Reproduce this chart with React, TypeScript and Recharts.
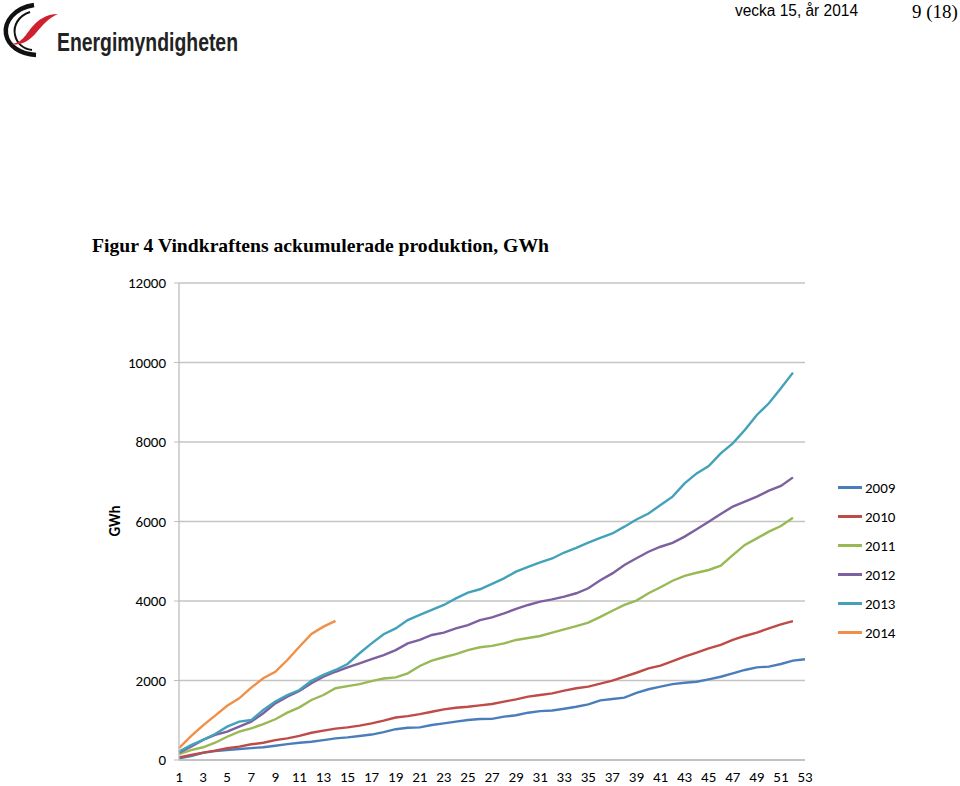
import { LineChart, Line, XAxis, YAxis, CartesianGrid } from 'recharts';

// weeks 1..53
const weeks = Array.from({ length: 53 }, (_, i) => i + 1);
const xTicks = [1, 3, 5, 7, 9, 11, 13, 15, 17, 19, 21, 23, 25, 27, 29, 31, 33, 35, 37, 39, 41, 43, 45, 47, 49, 51, 53];
const yTicks = [0, 2000, 4000, 6000, 8000, 10000, 12000];

// accumulated production, GWh, per week
const y2009 = [40, 100, 180, 225, 250, 275, 300, 320, 360, 400, 435, 460, 500, 545, 570, 605, 640, 700, 775, 810,
    820, 880, 920, 965, 1005, 1030, 1035, 1090, 1125, 1190, 1230, 1245, 1290, 1340, 1400, 1500, 1535, 1570, 1690, 1780,
    1845, 1910, 1945, 1970, 2030, 2095, 2180, 2265, 2330, 2350, 2415, 2500, 2535];
const y2010 = [65, 125, 185, 235, 295, 335, 395, 435, 500, 545, 605, 685, 740, 790, 820, 865, 920, 990, 1070, 1105,
    1155, 1215, 1275, 1315, 1340, 1375, 1410, 1470, 1525, 1595, 1635, 1675, 1745, 1805, 1845, 1920, 1995, 2095, 2195, 2305,
    2375, 2490, 2600, 2700, 2810, 2895, 3020, 3120, 3205, 3310, 3410, 3495];
const y2011 = [145, 250, 320, 435, 585, 715, 795, 905, 1025, 1190, 1325, 1510, 1635, 1805, 1860, 1910, 1985, 2050, 2080, 2180,
    2365, 2500, 2585, 2665, 2765, 2835, 2870, 2935, 3020, 3070, 3120, 3205, 3285, 3370, 3455, 3600, 3755, 3900, 4010, 4195,
    4345, 4510, 4630, 4710, 4780, 4890, 5155, 5410, 5575, 5745, 5885, 6095];
const y2012 = [185, 335, 505, 630, 715, 840, 965, 1175, 1425, 1595, 1735, 1930, 2095, 2220, 2330, 2430, 2540, 2640, 2765, 2935,
    3020, 3145, 3205, 3310, 3395, 3520, 3590, 3690, 3800, 3900, 3985, 4040, 4110, 4195, 4320, 4520, 4695, 4905, 5075, 5240,
    5365, 5465, 5620, 5805, 5995, 6190, 6375, 6500, 6625, 6775, 6895, 7110];
const y2013 = [210, 375, 505, 655, 840, 965, 1005, 1260, 1470, 1635, 1760, 1995, 2140, 2265, 2415, 2685, 2935, 3165, 3310, 3520,
    3650, 3775, 3900, 4065, 4210, 4295, 4430, 4570, 4740, 4860, 4970, 5070, 5220, 5335, 5470, 5590, 5700, 5870, 6050, 6200,
    6415, 6625, 6960, 7210, 7395, 7715, 7965, 8300, 8680, 8975, 9350, 9745];
const y2014 = [300, 600, 870, 1115, 1365, 1550, 1820, 2055, 2220, 2515, 2850, 3170, 3355, 3500];

const series = [
    { key: '2009', color: '#4A7EBB', values: y2009 },
    { key: '2010', color: '#BE4B48', values: y2010 },
    { key: '2011', color: '#98B954', values: y2011 },
    { key: '2012', color: '#7D60A0', values: y2012 },
    { key: '2013', color: '#43A2B9', values: y2013 },
    { key: '2014', color: '#F08F45', values: y2014 },
];

const data = weeks.map((w, i) => {
    const row: Record<string, number | undefined> = { week: w };
    series.forEach((s) => {
        row[s.key] = s.values[i];
    });
    return row;
});

const axisFont = 'Carlito, Lato, sans-serif';

function Header() {
    return (
        <svg width={960} height={270} style={{ position: 'absolute', left: 0, top: 0 }}>
            {/* logo */}
            <path d="M 34 5 C 14 8, 4 22, 6 34 C 8 46, 20 54, 36 55" stroke="#111" strokeWidth={4.5} fill="none" />
            <path d="M 30 12 C 18 16, 13 26, 15 35 C 17 44, 24 49, 32 50" stroke="#111" strokeWidth={2} fill="none" />
            <path d="M 10 44 C 22 44, 26 34, 32 27 C 38 20, 46 14, 58 14 C 48 18, 42 26, 36 33 C 30 40, 22 46, 10 44 Z" fill="#d0202e" />
            <text x={57} y={51} fontSize={26} fontWeight="bold" fill="#222"
                fontFamily="'Liberation Sans Narrow', 'Liberation Sans', sans-serif"
                textLength={181} lengthAdjust="spacingAndGlyphs">Energimyndigheten</text>
            <text x={735} y={16} fontSize={16} fill="#000"
                fontFamily="'Liberation Sans Narrow', 'Liberation Sans', sans-serif"
                textLength={123} lengthAdjust="spacingAndGlyphs">vecka 15, år 2014</text>
            <text x={912} y={18} fontSize={19} fill="#000" fontFamily="'Liberation Serif', serif">9 (18)</text>
            <text x={92} y={252} fontSize={19} fontWeight="bold" fill="#000" fontFamily="'Liberation Serif', serif"
                textLength={457} lengthAdjust="spacingAndGlyphs">Figur 4 Vindkraftens ackumulerade produktion, GWh</text>
        </svg>
    );
}

function LegendBox() {
    return (
        <div style={{ position: 'absolute', left: 838, top: 473 }}>
            {series.map((s) => (
                <div key={s.key} style={{ display: 'flex', alignItems: 'center', height: 29 }}>
                    <div style={{ width: 24, height: 3, background: s.color, marginRight: 3 }} />
                    <span style={{ fontFamily: axisFont, fontSize: 15, color: '#000' }}>{s.key}</span>
                </div>
            ))}
        </div>
    );
}

export default function App() {
    return (
        <div style={{ position: 'absolute', left: 0, top: 0, width: 960, height: 786, background: '#fff', overflow: 'hidden' }}>
            <Header />
            <div style={{ position: 'absolute', left: 0, top: 260 }}>
                <LineChart width={960} height={526} data={data} margin={{ top: 23, right: 155, bottom: 0, left: 0 }}>
                    <CartesianGrid vertical={false} stroke="#c4c4c4" strokeWidth={1.3} />
                    <XAxis
                        dataKey="week"
                        type="number"
                        domain={[1, 53]}
                        ticks={xTicks}
                        interval={0}
                        height={26}
                        axisLine={{ stroke: '#bdbdbd', strokeWidth: 1.3 }}
                        tickLine={false}
                        tickSize={6}
                        tickMargin={5}
                        tick={{ fontFamily: axisFont, fontSize: 15, fill: '#000' }}
                    />
                    <YAxis
                        type="number"
                        domain={[0, 12000]}
                        ticks={yTicks}
                        interval={0}
                        width={179}
                        axisLine={{ stroke: '#bdbdbd', strokeWidth: 1.3 }}
                        tickLine={{ stroke: '#bdbdbd' }}
                        tickSize={5}
                        tickMargin={8}
                        tick={{ fontFamily: axisFont, fontSize: 15, fill: '#000' }}
                    />
                    {series.map((s) => (
                        <Line
                            key={s.key}
                            type="linear"
                            dataKey={s.key}
                            stroke={s.color}
                            strokeWidth={2.4}
                            dot={false}
                            isAnimationActive={false}
                        />
                    ))}
                </LineChart>
            </div>
            <div style={{
                position: 'absolute', left: 115, top: 521, transform: 'translate(-50%, -50%) rotate(-90deg)',
                fontFamily: axisFont, fontSize: 15, fontWeight: 'bold', color: '#000',
            }}>GWh</div>
            <LegendBox />
        </div>
    );
}
